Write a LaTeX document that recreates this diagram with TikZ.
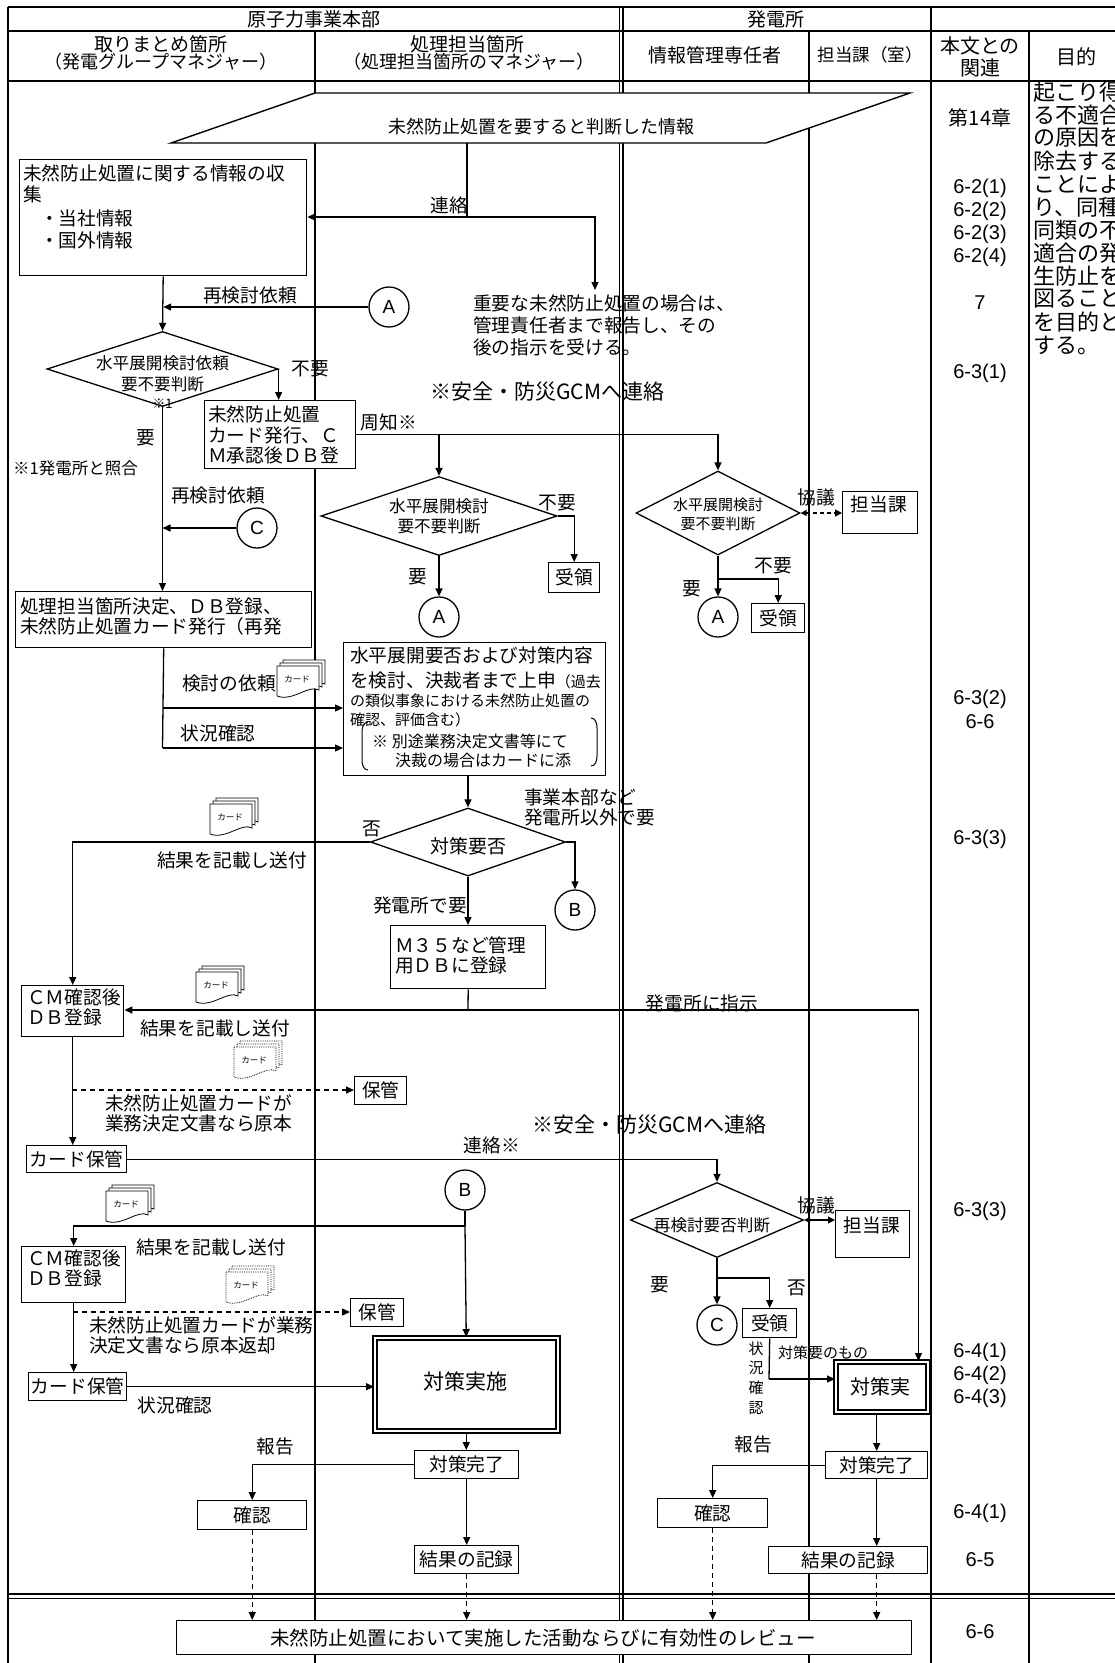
\documentclass[tikz,border=0pt]{standalone}
\usepackage{fontspec}
\setmainfont{Noto Sans CJK JP}
\newfontfamily\latinf{Liberation Sans}
\usetikzlibrary{arrows.meta,shapes.geometric}
\newcommand\fMain{\fontsize{18.7pt}{22.5pt}\selectfont}
\newcommand\fHd{\fontsize{19pt}{22pt}\selectfont}
\newcommand\fHs{\fontsize{18pt}{22pt}\selectfont}
\newcommand\fDia{\fontsize{16.6pt}{20pt}\selectfont}
\newcommand\fSm{\fontsize{15pt}{18pt}\selectfont}
\newcommand\fBig{\fontsize{21pt}{24pt}\selectfont}
\newcommand\fCard{\fontsize{8.5pt}{10pt}\selectfont}
\newcommand\fNum{\latinf\fontsize{20pt}{22pt}\selectfont}
\newcommand\fPur{\fontsize{22pt}{22.9pt}\selectfont}
\newcommand\cardpage[3]{\draw[#3] (#1-24,#2-16) -- (#1+18,#2-16) -- (#1+18,#2+8) .. controls (#1+8,#2+2) and (#1-8,#2+20) .. (#1-24,#2+14) -- cycle;}
\newcommand\rbox[7][]{\node[box,#1,anchor=north west,minimum width={(#5-#3)*1pt},minimum height={(#6-#4)*1pt}] (#2) at (#3,#4) {#7};}
\tikzset{
 cardline/.style={draw,fill=white,line width=0.8pt},
 pics/cards/.style={code={\cardpage{6}{-6}{#1}\cardpage{3}{-3}{#1}\cardpage{0}{0}{#1}\node[font=\fCard] (-t) at (-4,-3) {カード};}},
}
\begin{document}
\begin{tikzpicture}[x=1pt,y=-1pt,
  every node/.style={inner sep=0pt,font=\fMain},
  ln/.style={line width=1.3pt},
  arr/.style={ln,-{Triangle[length=8pt,width=7pt]}},
  darr/.style={arr,dash pattern=on 5pt off 4pt},
  box/.style={draw,line width=1.4pt,fill=white},
  dbox/.style={draw,line width=1.5pt,double=white,double distance=2.5pt,fill=white},
  dia/.style={draw,shape=diamond,line width=1.3pt,fill=white,inner sep=0pt},
  circ/.style={draw,circle,line width=1.3pt,fill=white,minimum size=40pt,font=\latinf\fontsize{19pt}{20pt}\selectfont},
  col/.style={line width=1.4pt},
  colt/.style={line width=1.1pt}]
\useasboundingbox (0,0) rectangle (1115,1663);
% ---------- table frame ----------
\draw[col] (8,7) -- (8,1663);
\draw[col] (8,7) -- (1115,7);
\draw[col] (8,31) -- (1115,31);
\draw[col] (8,81) -- (1115,81);
\draw[col] (315,31) -- (315,1663);
\draw[colt] (619.5,7) -- (619.5,1663);
\draw[colt] (623,7) -- (623,1663);
\draw[col] (809,31) -- (809,1663);
\draw[col] (931,7) -- (931,1663);
\draw[col] (1029,31) -- (1029,1663);
\draw[colt] (8,1594) -- (1115,1594);
\draw[colt] (8,1598.5) -- (1115,1598.5);
% ---------- headers ----------
\node[font=\fHd] (h1) at (314,19) {原子力事業本部};
\node[font=\fHd] (h2) at (776,19) {発電所};
\node[font=\fHd] (h3) at (161,44) {取りまとめ箇所};
\node[font=\fHs] (h4) at (161,62) {（発電グループマネジャー）};
\node[font=\fHd] (h5) at (467,44) {処理担当箇所};
\node[font=\fHs] (h6) at (469,62) {（処理担当箇所のマネジャー）};
\node[font=\fHd] (h7) at (715,55) {情報管理専任者};
\node[font=\fontsize{17.5pt}{20pt}\selectfont] (h8) at (870,55) {担当課（室）};
\node[font=\fontsize{20pt}{22pt}\selectfont] (h9) at (980,46) {本文との};
\node[font=\fontsize{20pt}{22pt}\selectfont] (h10) at (980,68) {関連};
\node[font=\fontsize{20pt}{22pt}\selectfont] (h11) at (1076,57) {目的};
% ---------- purpose column ----------
\foreach \s [count=\i] in {起こり得,る不適合,の原因を,除去する,ことによ,り、同種,同類の不,適合の発,生防止を,図ること,を目的と,する。}
  \node[font=\fPur,anchor=west] (pur\i) at (1033,{69+23*\i}) {\s};
% ---------- reference column ----------
\node[font=\fontsize{20pt}{22pt}\selectfont] (n1) at (980,118) {第14章};
\node[font=\fNum] (n2) at (980,188) {6-2(1)};
\node[font=\fNum] (n3) at (980,211) {6-2(2)};
\node[font=\fNum] (n4) at (980,234) {6-2(3)};
\node[font=\fNum] (n5) at (980,257) {6-2(4)};
\node[font=\fNum] (n6) at (980,303) {7};
\node[font=\fNum] (n7) at (980,373) {6-3(1)};
\node[font=\fNum] (n8) at (980,699) {6-3(2)};
\node[font=\fNum] (n9) at (980,722) {6-6};
\node[font=\fNum] (n10) at (980,839) {6-3(3)};
\node[font=\fNum] (n11) at (980,1211) {6-3(3)};
\node[font=\fNum] (n12) at (980,1352) {6-4(1)};
\node[font=\fNum] (n13) at (980,1375) {6-4(2)};
\node[font=\fNum] (n14) at (980,1398) {6-4(3)};
\node[font=\fNum] (n15) at (980,1513) {6-4(1)};
\node[font=\fNum] (n16) at (980,1560) {6-5};
\node[font=\fNum] (n17) at (980,1632) {6-6};
% ---------- top parallelogram ----------
\draw[box] (315,93) -- (910,93) -- (766,143) -- (171,143) -- cycle;
\node[font=\fHs] (t0) at (541,127) {未然防止処置を要すると判断した情報};
\coordinate (pgb) at (467,143);
% ---------- collection box ----------
\rbox{b1}{19}{159}{306}{275}{}
\node[anchor=west] (b1a) at (23,173) {未然防止処置に関する情報の収};
\node[anchor=west] (b1b) at (23,194) {集};
\node[anchor=west] (b1c) at (40,218) {・当社情報};
\node[anchor=west] (b1d) at (40,240) {・国外情報};
\coordinate (j1) at (467,217);
\coordinate (k1c) at (595,290);
\draw[ln] (pgb) -- (j1);
\draw[arr] (j1) -- (j1 -| b1.east);
\draw[arr] (j1) -| (k1c);
\node (l1) at (449,205) {連絡};
\node[anchor=west] (l2) at (473,303) {重要な未然防止処置の場合は、};
\node[anchor=west] (l3) at (473,325) {管理責任者まで報告し、その};
\node[anchor=west] (l4) at (473,347) {後の指示を受ける。};
\node[font=\fontsize{21pt}{24pt}\selectfont,anchor=west] (l5) at (430,392) {※安全・防災GCMへ連絡};
% ---------- A1 and decision 1 ----------
\node[circ] (a1) at (389,307) {A};
\node (l6) at (250,295) {再検討依頼};
\node[dia,minimum width=231pt,minimum height=75pt] (d1) at (162.5,369) {};
\draw[arr] (a1.west) -- (a1.west -| b1.south);
\draw[arr] (b1.south) -- (d1.north);
\node[font=\fDia] (d1a) at (162.5,363) {水平展開検討依頼};
\node[font=\fDia] (d1b) at (162.5,384) {要不要判断};
\node[font=\fontsize{13pt}{14pt}\selectfont] (d1c) at (162.5,404) {※1};
\rbox{b2}{204}{400}{355}{468}{}
\node[anchor=west] (b2a) at (208,414) {未然防止処置};
\node[anchor=west] (b2b) at (208,435) {カード発行、Ｃ};
\node[anchor=west] (b2c) at (208,455) {Ｍ承認後ＤＢ登};
\draw[arr] (d1.east) -- (d1.east |- b2.north);
\node (l7) at (310,369) {不要};
\node (l8) at (146,438) {要};
\node[font=\fontsize{16.5pt}{18pt}\selectfont,anchor=west] (l9) at (13,468) {※1発電所と照合};
\node[circ] (c1) at (257,528) {C};
\node (l10) at (218,495) {再検討依頼};
\draw[arr] (c1.west) -- (c1.west -| d1.south);
\rbox{b3}{15}{591}{311}{647}{}
\node[anchor=west] (b3a) at (20,606) {処理担当箇所決定、ＤＢ登録、};
\node[anchor=west] (b3b) at (20,626) {未然防止処置カード発行（再発};
\draw[arr] (d1.south) -- (d1.south |- b3.north);
% ---------- distribution ----------
\node[dia,minimum width=236pt,minimum height=79pt] (d2) at (439,516) {};
\node[font=\fDia] (d2a) at (439,506) {水平展開検討};
\node[font=\fDia] (d2b) at (439,526) {要不要判断};
\node[dia,minimum width=164pt,minimum height=84pt] (d3) at (718,513) {};
\node[font=\fSm] (d3a) at (718,505) {水平展開検討};
\node[font=\fSm] (d3b) at (718,524) {要不要判断};
\coordinate (j2) at (d2.north |- b2.east);
\draw[arr] (b2.east) -| (d3.north);
\draw[arr] (j2) -- (d2.north);
\node (l11) at (389,422) {周知※};
\rbox{r1}{548}{562}{599}{592}{受領}
\draw[arr] (d2.east) -| (r1.north);
\node (l12) at (557,503) {不要};
\node (l13) at (418,577) {要};
\node[circ] (a2) at (439,617) {A};
\draw[arr] (d2.south) -- (a2.north);
\rbox{t1}{842}{491}{917}{533}{}
\node (t1a) at (879,504) {担当課};
\draw[ln,{Triangle[length=6pt,width=6pt]}-{Triangle[length=7pt,width=7pt]},dash pattern=on 4pt off 3pt] (d3.east) -- (d3.east -| t1.west);
\node (l14) at (816,497) {協議};
\coordinate (j3) at (718,579);
\node[circ] (a3) at (718,617) {A};
\rbox{r2}{751}{603}{804}{632}{受領}
\draw[ln] (d3.south) -- (j3);
\draw[arr] (j3) -- (a3.north);
\draw[arr] (j3) -| (r2.north);
\node (l15) at (773,566) {不要};
\node (l16) at (692,589) {要};
% ---------- study box ----------
\rbox{b4}{343}{642}{605}{775}{}
\node[anchor=west] (b4a) at (350,655) {水平展開要否および対策内容};
\node[anchor=west] (b4b) at (350,680) {を検討、決裁者まで上申{\fSm（過去}};
\node[anchor=west,font=\fSm] (b4c) at (350,701) {の類似事象における未然防止処置の};
\node[anchor=west,font=\fSm] (b4d) at (350,720) {確認、評価含む）};
\node[anchor=west,font=\fontsize{16pt}{18pt}\selectfont] (b4e) at (372,741) {※\ 別途業務決定文書等にて};
\node[anchor=west,font=\fontsize{16pt}{18pt}\selectfont] (b4f) at (395,760) {決裁の場合はカードに添};
\draw[line width=1pt] (368,722) to[out=180,in=90] (362,732) -- (362,760) to[out=270,in=180] (368,770);
\draw[line width=1pt] (591,718) to[out=0,in=90] (597,728) -- (597,756) to[out=270,in=0] (591,766);
\coordinate (j4) at (162.5,708);
\coordinate (j5) at (162.5,748);
\draw[ln] (b3.south) -- (j5);
\draw[arr] (j4) -- (j4 -| b4.west);
\draw[arr] (j5) -- (j5 -| b4.west);
\node (l17) at (229,683) {検討の依頼};
\node (l18) at (218,733) {状況確認};
\pic (k1) at (301,682) {cards=cardline};
% ---------- decision 4 ----------
\node[dia,minimum width=195pt,minimum height=68pt] (d4) at (468,842) {};
\node[font=\fontsize{19pt}{20pt}\selectfont] (d4a) at (468,846) {対策要否};
\draw[arr] (b4.south -| d4.north) -- (d4.north);
\rbox{b5}{21}{985}{123}{1036}{}
\node[anchor=west] (b5a) at (27,997) {ＣＭ確認後};
\node[anchor=west] (b5b) at (27,1017) {ＤＢ登録};
\draw[arr] (d4.west) -| (b5.north);
\node (l19) at (372,829) {否};
\pic (k2) at (234,820) {cards=cardline};
\node (l20) at (232,860) {結果を記載し送付};
\node[circ] (bb1) at (575,910) {B};
\draw[arr] (d4.east) -| (bb1.north);
\node[anchor=west] (l21) at (524,797) {事業本部など};
\node[anchor=west] (l22) at (524,817) {発電所以外で要};
\node (l23) at (420,905) {発電所で要};
\rbox{b6}{390}{925}{545}{988}{}
\node[anchor=west] (b6a) at (395,945) {Ｍ３５など管理};
\node[anchor=west] (b6b) at (395,965) {用ＤＢに登録};
\draw[arr] (d4.south) -- (d4.south |- b6.north);
\coordinate (j6) at (468,1010);
\draw[ln] (b6.south) -- (j6);
\draw[arr] (j6) -- (j6 -| b5.east);
\pic (k3) at (220,988) {cards=cardline};
\node (l24) at (215,1028) {結果を記載し送付};
\pic (k4) at (258,1063) {cards={cardline,densely dotted}};
% ---------- storage 1 ----------
\rbox{s1}{354}{1076}{406}{1104}{保管}
\coordinate (j9) at (72,1090);
\draw[darr] (j9) -- (j9 -| s1.west);
\node[anchor=west] (l25) at (105,1103) {未然防止処置カードが};
\node[anchor=west] (l26) at (105,1123) {業務決定文書なら原本};
\rbox{b7}{26}{1145}{126}{1172}{カード保管}
\draw[arr] (b5.south) -- (b5.south |- b7.north);
% ---------- right lower flow ----------
\node[dia,minimum width=173pt,minimum height=75pt] (d5) at (717,1220) {};
\node[font=\fDia] (d5a) at (712,1225) {再検討要否判断};
\draw[arr] (b7.east) -| (d5.north);
\node (l27) at (492,1145) {連絡※};
\node[font=\fontsize{21pt}{24pt}\selectfont,anchor=west] (l28) at (532,1125) {※安全・防災GCMへ連絡};
\rbox{t2}{835}{1210}{909}{1257}{}
\node (t2a) at (872,1225) {担当課};
\draw[ln,{Triangle[length=6pt,width=6pt]}-{Triangle[length=7pt,width=7pt]}] (d5.east) -- (d5.east -| t2.west);
\node (l29) at (816,1205) {協議};
\coordinate (j12) at (717,1278);
\node[circ] (c2) at (717,1325) {C};
\rbox{r3}{742}{1308}{796}{1337}{受領}
\draw[ln] (d5.south) -- (j12);
\draw[arr] (j12) -- (c2.north);
\draw[arr] (j12) -| (r3.north);
\node (l30) at (660,1285) {要};
\node (l31) at (797,1288) {否};
\rbox[dbox]{tj}{835}{1361}{927}{1411}{}
\node[font=\fontsize{20pt}{22pt}\selectfont] (tja) at (880,1387) {対策実};
\coordinate (j13) at (769,1379);
\draw[ln] (r3.south) -- (j13);
\draw[arr] (j13) -- (j13 -| tj.west);
\node[font=\fontsize{15pt}{19.7pt}\selectfont,align=center] (l32) at (756,1378) {状\\況\\確\\認};
\node[font=\fSm] (l33) at (823,1353) {対策要のもの};
\draw[arr] (j6) -| ([xshift=-10pt]tj.north east);
\node (l34) at (702,1003) {発電所に指示};
% ---------- B2 and CM box 2 ----------
\node[circ] (bb2) at (465,1190) {B};
\coordinate (j10) at (465,1226);
\rbox[dbox]{tk}{374}{1337}{557}{1430}{}
\node[font=\fBig] (tka) at (465,1381) {対策実施};
\draw[ln] (bb2.south) -- (j10);
\draw[arr] (j10) -- (tk.north);
\rbox{b8}{21}{1246}{125}{1302}{}
\node[anchor=west] (b8a) at (27,1258) {ＣＭ確認後};
\node[anchor=west] (b8b) at (27,1278) {ＤＢ登録};
\draw[arr] (j10) -| (b8.north);
\pic (k5) at (130,1207) {cards=cardline};
\node (l35) at (211,1247) {結果を記載し送付};
\pic (k6) at (250,1288) {cards={cardline,densely dotted}};
\rbox{s2}{350}{1298}{403}{1326}{保管}
\coordinate (j11) at (73,1312);
\draw[darr] (j11) -- (j11 -| s2.west);
\node[anchor=west] (l36) at (89,1325) {未然防止処置カードが業務};
\node[anchor=west] (l37) at (89,1345) {決定文書なら原本返却};
\rbox{b9}{28}{1372}{126}{1400}{カード保管}
\draw[arr] (b8.south) -- (b8.south |- b9.north);
\draw[arr] (b9.east) -- (b9.east -| tk.west);
\node (l38) at (175,1405) {状況確認};
% ---------- completion left ----------
\rbox{ck1}{414}{1450}{518}{1478}{対策完了}
\draw[arr] (tk.south) -- (tk.south |- ck1.north);
\rbox{kn1}{197}{1500}{306}{1529}{確認}
\draw[arr] (ck1.west) -| (kn1.north);
\node (l39) at (275,1446) {報告};
\rbox{kr1}{414}{1545}{518}{1573}{結果の記録}
\draw[arr] (ck1.south) -- (kr1.north);
% ---------- completion right ----------
\rbox{ck2}{825}{1451}{927}{1478}{対策完了}
\draw[arr] (ck2.north |- tj.south) -- (ck2.north);
\rbox{kn2}{657}{1498}{767}{1527}{確認}
\draw[arr] (ck2.west) -| (kn2.north);
\node (l40) at (753,1444) {報告};
\rbox{kr2}{768}{1546}{927}{1573}{結果の記録}
\draw[arr] (ck2.south) -- (ck2.south |- kr2.north);
% ---------- review ----------
\rbox{rv}{176}{1620}{911}{1654}{}
\node[font=\fontsize{19.5pt}{22pt}\selectfont] (rva) at (543,1638) {未然防止処置において実施した活動ならびに有効性のレビュー};
\draw[darr] (kn1.south) -- (kn1.south |- rv.north);
\draw[darr] (kr1.south) -- (kr1.south |- rv.north);
\draw[darr] (kn2.south) -- (kn2.south |- rv.north);
\draw[darr] (ck2.south |- kr2.south) -- (ck2.south |- rv.north);
\end{tikzpicture}
\end{document}
